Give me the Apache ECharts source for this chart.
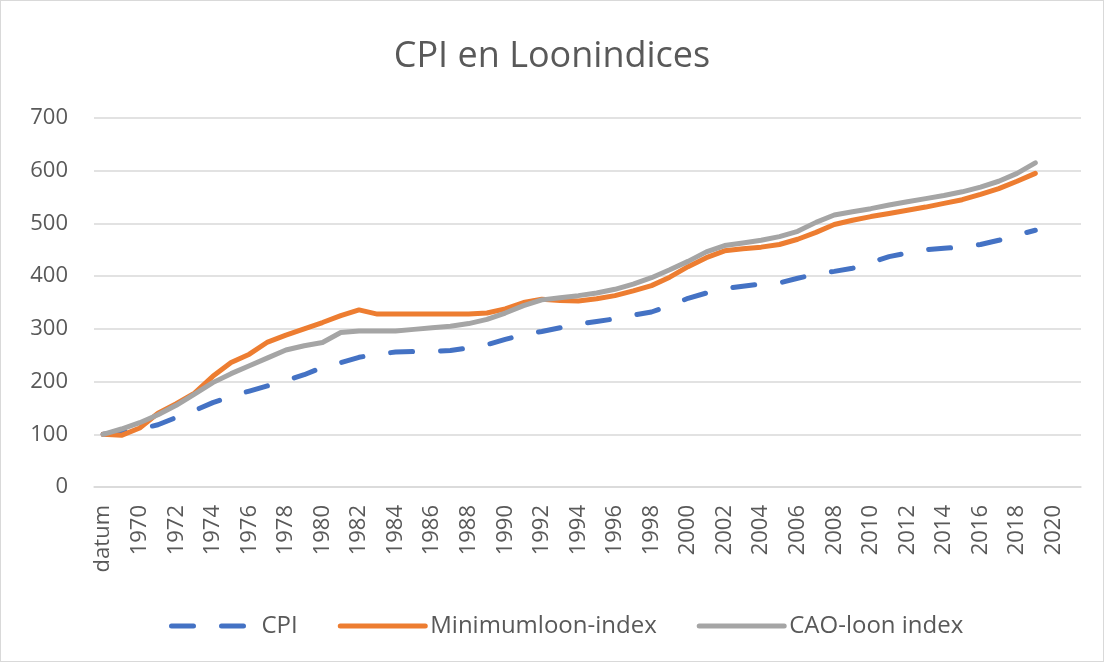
<!DOCTYPE html>
<html>
<head>
<meta charset="utf-8">
<script src="https://cdn.jsdelivr.net/npm/echarts@6/dist/echarts.min.js"></script>
<style>
  html, body { margin: 0; padding: 0; background: #fff; }
  #chart { width: 1104px; height: 662px; box-sizing: border-box; border: 1px solid #d9d9d9; }
</style>
</head>
<body>
<div id="chart"></div>
<script>
// categories: 'datum' then 1969 .. 2021 (Excel shows every other label)
const years = ['datum'];
for (let y = 1969; y <= 2021; y++) years.push(String(y));

// values, datum then 1969 .. 2019
const cpi = [100, 104, 110, 118, 132, 145, 160, 172, 182, 192, 202, 213, 227, 236, 246, 252,
  256, 257, 257, 259, 264, 270, 280, 289, 295, 302, 309, 314, 319, 326, 332, 344, 358, 368,
  376, 381, 385, 387, 396, 404, 409, 415, 426, 437, 444, 450, 453, 455, 460, 468, 478, 487];
const minimumloon = [100, 98, 112, 140, 158, 178, 210, 236, 252, 275, 288, 300, 312, 325, 336, 328,
  328, 328, 328, 328, 328, 330, 338, 350, 356, 354, 353, 357, 363, 372, 382, 398, 418, 435,
  448, 452, 455, 460, 470, 483, 498, 506, 513, 519, 525, 531, 538, 545, 555, 566, 580, 595];
const caoLoon = [100, 110, 122, 137, 155, 176, 198, 215, 230, 245, 260, 268, 274, 293, 296, 296,
  296, 299, 302, 305, 310, 318, 330, 344, 355, 359, 363, 368, 375, 385, 397, 412, 428, 446,
  458, 463, 468, 475, 485, 502, 516, 522, 528, 535, 541, 547, 553, 560, 569, 580, 595, 615];

const seriesNames = ['CPI', 'Minimumloon-index', 'CAO-loon index'];
const colors = ['#4472C4', '#ED7D31', '#A5A5A5'];

const font = '"Open Sans", "Liberation Sans", sans-serif';
const chart = echarts.init(document.getElementById('chart'));

chart.setOption({
  animation: false,
  color: colors,
  title: {
    text: 'CPI en Loonindices',
    left: 'center',
    top: 33,
    textStyle: { fontFamily: font, fontSize: 36, fontWeight: 'normal', color: '#595959' }
  },
  legend: {
    bottom: 18,
    left: 163,
    itemWidth: 85,
    itemHeight: 14,
    itemGap: 40,
    itemStyle: { opacity: 0 },
    lineStyle: { width: 5, cap: 'round' },
    textStyle: { fontFamily: font, fontSize: 24, color: '#595959' },
    data: seriesNames
  },
  grid: { left: 93, right: 22, top: 117, bottom: 174, containLabel: false },
  xAxis: {
    type: 'category',
    data: years,
    boundaryGap: true,
    axisLine: { show: true, lineStyle: { color: '#d9d9d9', width: 1.5 } },
    axisTick: { show: false },
    axisLabel: {
      interval: 1,
      rotate: 90,
      margin: 18,
      fontFamily: font,
      fontSize: 22,
      color: '#595959'
    }
  },
  yAxis: {
    type: 'value',
    min: 0,
    max: 700,
    interval: 100,
    axisLine: { show: false },
    axisTick: { show: false },
    splitLine: { lineStyle: { color: '#d9d9d9', width: 1.5 } },
    axisLabel: { margin: 26, fontFamily: font, fontSize: 22, color: '#595959' }
  },
  series: [
    {
      name: seriesNames[0],
      type: 'line',
      data: cpi,
      symbol: 'none',
      lineStyle: { width: 5, type: [22, 28], cap: 'round', join: 'round' }
    },
    {
      name: seriesNames[1],
      type: 'line',
      data: minimumloon,
      symbol: 'none',
      lineStyle: { width: 5, cap: 'round', join: 'round' }
    },
    {
      name: seriesNames[2],
      type: 'line',
      data: caoLoon,
      symbol: 'none',
      lineStyle: { width: 5, cap: 'round', join: 'round' }
    }
  ]
});
</script>
</body>
</html>
